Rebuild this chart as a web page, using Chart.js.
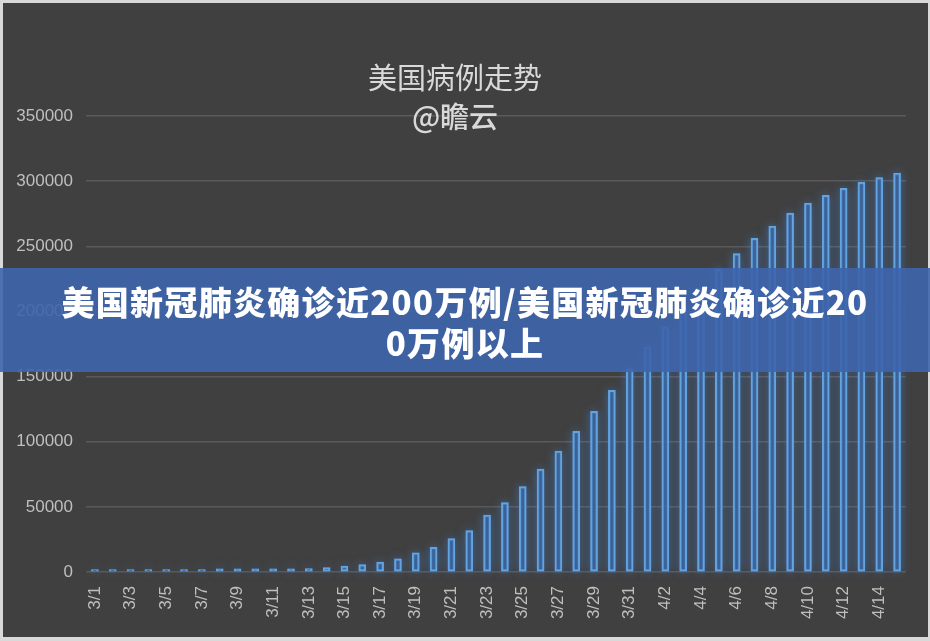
<!DOCTYPE html>
<html>
<head>
<meta charset="utf-8">
<script src="https://cdn.jsdelivr.net/npm/chart.js@4/dist/chart.umd.min.js"></script>
<style>
  html, body { margin: 0; padding: 0; }
  body { width: 930px; height: 641px; background: #d9d9d9; position: relative; overflow: hidden; }
  #box { position: absolute; left: 3px; top: 3px; width: 925px; height: 634px; background: #404040; }
  #banner {
    position: absolute; left: 0; top: 268px; width: 930px; height: 104px;
    background: rgba(62, 101, 172, 0.9);
    color: #fff; text-align: center;
    font-family: "Noto Sans CJK SC", sans-serif; font-weight: 900;
    font-size: 33px; line-height: 41px; letter-spacing: 1.3px;
    padding-top: 13px; box-sizing: border-box;
  }
  #banner div { white-space: nowrap; }
</style>
</head>
<body>
<div id="box"><canvas id="chart"></canvas></div>
<div id="banner">
  <div>美国新冠肺炎确诊近200万例/美国新冠肺炎确诊近20</div>
  <div>0万例以上</div>
</div>
<script>
const days = [
  '3/1', '3/2', '3/3', '3/4', '3/5', '3/6', '3/7', '3/8', '3/9', '3/10',
  '3/11', '3/12', '3/13', '3/14', '3/15', '3/16', '3/17', '3/18', '3/19', '3/20',
  '3/21', '3/22', '3/23', '3/24', '3/25', '3/26', '3/27', '3/28', '3/29', '3/30',
  '3/31', '4/1', '4/2', '4/3', '4/4', '4/5', '4/6', '4/7', '4/8', '4/9',
  '4/10', '4/11', '4/12', '4/13', '4/14', '4/15',
];
const cases = [
  1800, 1800, 1800, 1800, 1800, 1800, 1800, 2500, 2500, 2500,
  2500, 2500, 2600, 3300, 4600, 5600, 7600, 10200, 14800, 19000,
  25600, 31800, 43600, 53300, 65600, 79000, 92800, 107900, 123300, 139500,
  156000, 172800, 188200, 203000, 218000, 232300, 244400, 256100, 265600, 275400,
  283100, 289200, 294400, 299000, 302800, 306100,
];
const yTicks = [0, 50000, 100000, 150000, 200000, 250000, 300000, 350000];
const titleLines = ['美国病例走势', '@瞻云'];

// blue glow behind each bar (the bar itself clips its own shadow)
const glow = {
  id: 'glow',
  beforeDatasetsDraw(chart) {
    const ctx = chart.ctx;
    const meta = chart.getDatasetMeta(0);
    ctx.save();
    ctx.shadowColor = 'rgba(70, 150, 255, 0.95)';
    ctx.shadowBlur = 10;
    ctx.fillStyle = 'rgba(80, 140, 210, 0.55)';
    meta.data.forEach((bar) => {
      const { x, y, base, width } = bar.getProps(['x', 'y', 'base', 'width'], true);
      ctx.fillRect(x - width / 2, y, width, base - y);
    });
    ctx.restore();
  },
};

// title sits over the top gridline, so draw it by hand
const overTitle = {
  id: 'overTitle',
  afterDraw(chart) {
    const ctx = chart.ctx;
    ctx.save();
    ctx.fillStyle = '#d9d9d9';
    ctx.textAlign = 'center';
    ctx.textBaseline = 'middle';
    ctx.font = '29px "Noto Sans CJK SC", sans-serif';
    ctx.fillText(titleLines[0], 452, 75);
    ctx.font = '500 29px "Noto Sans CJK SC", sans-serif';
    ctx.fillText(titleLines[1], 452, 114);
    ctx.restore();
  },
};

new Chart(document.getElementById('chart'), {
  type: 'bar',
  data: {
    labels: days,
    datasets: [
      {
        data: cases,
        backgroundColor: 'rgba(50, 85, 140, 0.6)',
        borderColor: '#62a3e0',
        borderWidth: 2,
        borderSkipped: false,
        barThickness: 7,
      },
    ],
  },
  options: {
    responsive: true,
    maintainAspectRatio: false,
    animation: false,
    layout: { padding: { top: 113, right: 22, left: 0, bottom: 0 } },
    plugins: {
      legend: { display: false },
      tooltip: { enabled: false },
      title: { display: false },
    },
    scales: {
      x: {
        grid: { display: false },
        border: { display: false },
        ticks: {
          autoSkip: false,
          minRotation: 90,
          maxRotation: 90,
          padding: 6,
          color: '#bfbfbf',
          font: { family: 'Liberation Sans', size: 17 },
          callback(val, i) {
            return i % 2 === 0 ? days[i] : '';
          },
        },
        afterFit(scale) {
          scale.height = 65;
        },
      },
      y: {
        min: 0,
        max: 350000,
        afterBuildTicks(scale) {
          scale.ticks = yTicks.map((v) => ({ value: v }));
        },
        grid: { color: '#5a5a5a', lineWidth: 1.5, drawTicks: false },
        border: { display: false },
        ticks: {
          padding: 13,
          color: '#bfbfbf',
          font: { family: 'Liberation Sans', size: 17 },
          callback(v) {
            return String(v);
          },
        },
        afterFit(scale) {
          scale.width = 83;
        },
      },
    },
  },
  plugins: [glow, overTitle],
});
</script>
</body>
</html>
